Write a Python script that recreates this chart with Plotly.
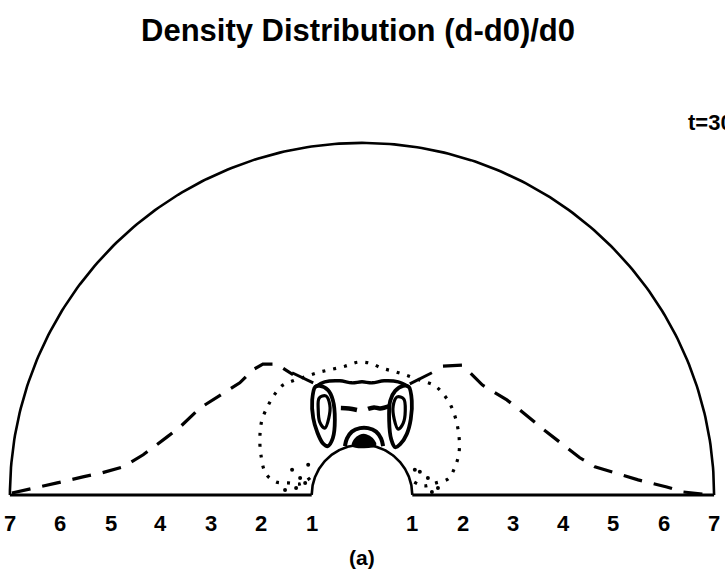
import numpy as np
import plotly.graph_objects as go

# Annular half-domain: inner body radius and outer boundary radius
r_inner = 1.0
r_outer = 7.0

# Radial distance labels along the base line
tick_values = [-7, -6, -5, -4, -3, -2, -1, 1, 2, 3, 4, 5, 6, 7]
tick_labels = ["7", "6", "5", "4", "3", "2", "1", "1", "2", "3", "4", "5", "6", "7"]

# Dashed contour level (left and right branches)
dashed_left_x = [-6.96, -6.40, -6.06, -5.55, -5.17, -4.75, -4.35, -3.88, -3.62,
                 -3.22, -2.88, -2.43, -2.17, -1.97, -1.69, -1.37]
dashed_left_y = [0.04, 0.16, 0.24, 0.36, 0.44, 0.56, 0.80, 1.15, 1.35,
                 1.73, 1.95, 2.23, 2.49, 2.60, 2.60, 2.39]
dashed_right_x = [1.61, 1.99, 2.15, 2.39, 2.88, 3.14, 3.60, 3.88, 4.33,
                  4.63, 5.17, 5.49, 6.06, 6.38, 6.96]
dashed_right_y = [2.56, 2.58, 2.43, 2.19, 1.89, 1.69, 1.31, 1.09, 0.74,
                  0.56, 0.40, 0.30, 0.16, 0.06, 0.00]

# Dotted contour level enclosing the body
dotted_x = [-1.03, -1.23, -1.47, -1.71, -1.91, -2.01, -2.03, -1.99, -1.89, -1.77,
            -1.59, -1.37, -1.13, -0.89, -0.64, -0.34, -0.08, 0.16, 0.40, 0.66,
            0.91, 1.19, 1.45, 1.63, 1.77, 1.87, 1.93, 1.93, 1.85, 1.71,
            1.47, 1.23, 1.03]
dotted_y = [0.34, 0.22, 0.24, 0.26, 0.42, 0.80, 1.15, 1.49, 1.73, 1.95,
            2.17, 2.27, 2.35, 2.43, 2.49, 2.56, 2.64, 2.62, 2.52, 2.45,
            2.37, 2.27, 2.17, 1.99, 1.77, 1.49, 1.15, 0.85, 0.56, 0.32,
            0.24, 0.18, 0.26]

# Isolated low-level specks near the body surface
speck_x = [-1.39, -1.23, -1.31, -1.13, -1.53, -1.07, 1.15, 1.31, 1.51, 1.39, 1.05]
speck_y = [0.50, 0.34, 0.14, 0.24, 0.10, 0.60, 0.46, 0.34, 0.14, 0.06, 0.50]

# Solid contour levels near the body
whisker_left_x = [-1.39, -0.97]
whisker_left_y = [2.43, 2.23]
whisker_right_x = [0.95, 1.39]
whisker_right_y = [2.21, 2.43]

head_top_x = [-0.93, -0.74, -0.44, -0.20, 0.00, 0.20, 0.44, 0.72, 0.93]
head_top_y = [2.15, 2.25, 2.27, 2.23, 2.25, 2.23, 2.27, 2.25, 2.15]

ear_left_x = [-0.93, -0.99, -0.97, -0.89, -0.78, -0.68, -0.58, -0.54, -0.58, -0.68, -0.84, -0.93]
ear_left_y = [2.15, 1.89, 1.53, 1.25, 1.03, 0.97, 1.13, 1.49, 1.89, 2.09, 2.17, 2.15]
eye_left_x = [-0.85, -0.72, -0.64, -0.66, -0.74, -0.84, -0.87, -0.85]
eye_left_y = [1.93, 1.97, 1.79, 1.53, 1.33, 1.45, 1.69, 1.93]

ear_right_x = [0.93, 0.99, 0.97, 0.89, 0.76, 0.66, 0.58, 0.54, 0.56, 0.66, 0.82, 0.93]
ear_right_y = [2.15, 1.87, 1.51, 1.21, 1.01, 0.95, 1.11, 1.47, 1.87, 2.07, 2.17, 2.15]
eye_right_x = [0.83, 0.70, 0.62, 0.64, 0.72, 0.82, 0.86, 0.83]
eye_right_y = [1.91, 1.95, 1.77, 1.51, 1.31, 1.43, 1.67, 1.91]

bar_left_x = [-0.42, -0.26, -0.10]
bar_left_y = [1.73, 1.72, 1.69]
bar_right_x = [0.12, 0.24, 0.36, 0.56]
bar_right_y = [1.71, 1.74, 1.72, 1.77]

dome_outer_x = [-0.34, -0.30, -0.20, -0.04, 0.12, 0.28, 0.38, 0.42]
dome_outer_y = [0.97, 1.12, 1.26, 1.33, 1.33, 1.26, 1.12, 0.97]
dome_core_x = [-0.18, -0.14, -0.04, 0.08, 0.20, 0.26, -0.18]
dome_core_y = [0.98, 1.10, 1.18, 1.19, 1.12, 0.99, 0.98]

INK = "#000000"
FONT = "Liberation Sans, Arial, sans-serif"

fig = go.Figure()

# Domain boundaries: outer arc, inner arc and the symmetry line
theta = np.linspace(0.0, np.pi, 241)
fig.add_trace(go.Scatter(x=r_outer * np.cos(theta), y=r_outer * np.sin(theta),
                         mode="lines", line=dict(color=INK, width=2.6),
                         hoverinfo="skip"))
fig.add_trace(go.Scatter(x=r_inner * np.cos(theta), y=r_inner * np.sin(theta),
                         mode="lines", line=dict(color=INK, width=2.6),
                         hoverinfo="skip"))
fig.add_trace(go.Scatter(x=[-r_outer, -r_inner, None, r_inner, r_outer],
                         y=[0, 0, None, 0, 0],
                         mode="lines", line=dict(color=INK, width=3.2),
                         hoverinfo="skip"))

# Dashed level
for xs, ys in [(dashed_left_x, dashed_left_y), (dashed_right_x, dashed_right_y)]:
    fig.add_trace(go.Scatter(x=xs, y=ys, mode="lines",
                             line=dict(color=INK, width=3.2, dash="19px,12px"),
                             hoverinfo="skip"))

# Dotted level
fig.add_trace(go.Scatter(x=dotted_x, y=dotted_y, mode="lines",
                         line=dict(color=INK, width=3.2, dash="3px,8px", shape="spline"),
                         hoverinfo="skip"))
fig.add_trace(go.Scatter(x=speck_x, y=speck_y, mode="markers",
                         marker=dict(color=INK, size=4), hoverinfo="skip"))

# Solid levels around the body
solid_paths = [
    (whisker_left_x, whisker_left_y, 3.0),
    (whisker_right_x, whisker_right_y, 3.0),
    (head_top_x, head_top_y, 3.4),
    (ear_left_x, ear_left_y, 3.8),
    (eye_left_x, eye_left_y, 3.2),
    (ear_right_x, ear_right_y, 3.8),
    (eye_right_x, eye_right_y, 3.2),
    (bar_left_x, bar_left_y, 4.5),
    (bar_right_x, bar_right_y, 4.5),
    (dome_outer_x, dome_outer_y, 4.0),
]
for xs, ys, w in solid_paths:
    fig.add_trace(go.Scatter(x=xs, y=ys, mode="lines",
                             line=dict(color=INK, width=w, shape="spline"),
                             hoverinfo="skip"))
fig.add_trace(go.Scatter(x=dome_core_x, y=dome_core_y, mode="lines",
                         fill="toself", fillcolor=INK,
                         line=dict(color=INK, width=2, shape="spline"),
                         hoverinfo="skip"))

# Distance labels under the base line
annotations = []
for v, t in zip(tick_values, tick_labels):
    annotations.append(dict(x=v, y=-0.56, xref="x", yref="y", text="<b>" + t + "</b>",
                            showarrow=False,
                            font=dict(family=FONT, size=22, color=INK)))
annotations.append(dict(x=0.0, y=-1.25, xref="x", yref="y", text="<b>(a)</b>",
                        showarrow=False,
                        font=dict(family=FONT, size=21, color=INK)))
annotations.append(dict(x=686 / 725, y=1 - 122 / 582, xref="paper", yref="paper",
                        text="<b>t=30</b>", showarrow=False, xanchor="left",
                        yanchor="middle",
                        font=dict(family=FONT, size=22, color=INK)))

fig.update_layout(
    width=725, height=582,
    margin=dict(l=0, r=0, t=0, b=0),
    paper_bgcolor="white", plot_bgcolor="white",
    showlegend=False,
    title=dict(text="<b>Density Distribution (d-d0)/d0</b>",
               x=358 / 725, y=1 - 30 / 582, xanchor="center", yanchor="middle",
               font=dict(family=FONT, size=31, color=INK)),
    xaxis=dict(range=[-7.197, 7.217], visible=False, fixedrange=True),
    yaxis=dict(range=[-1.730, 9.841], visible=False, fixedrange=True),
    annotations=annotations,
)

fig.write_html("out.html")
